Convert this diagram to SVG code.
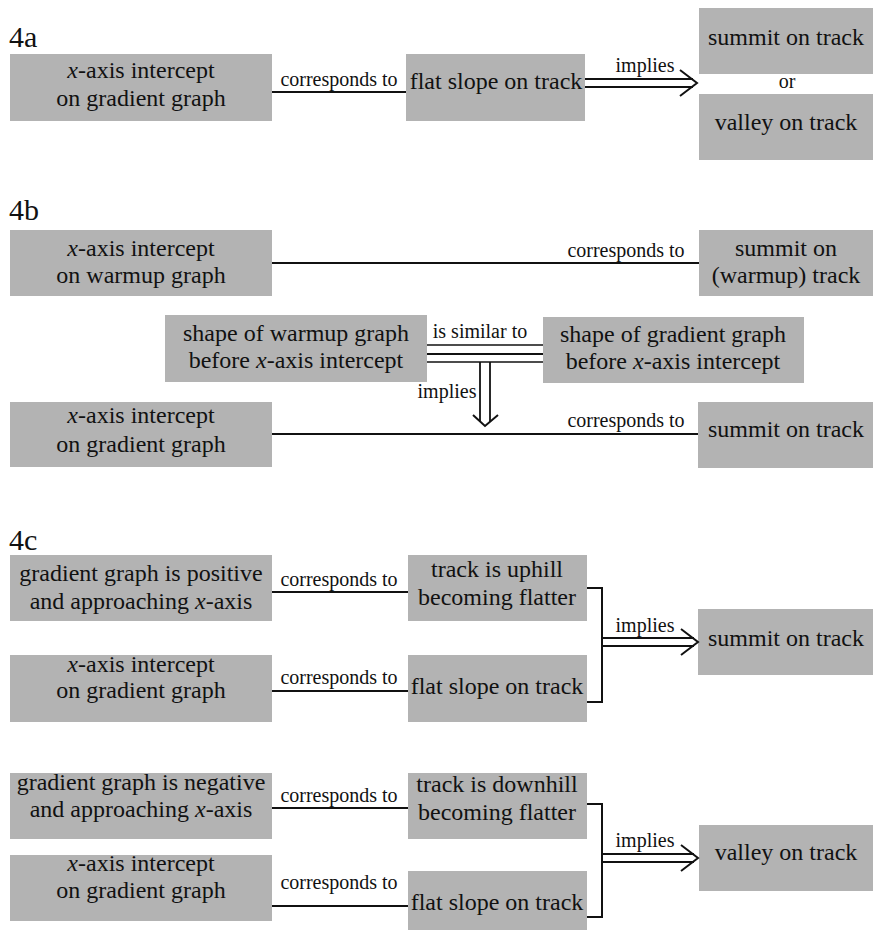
<svg xmlns="http://www.w3.org/2000/svg" width="873" height="930" viewBox="0 0 873 930">
<rect width="873" height="930" fill="#ffffff"/>
<g id="labels" font-family="Liberation Serif" font-size="30" fill="#111111">
<text x="9" y="47">4a</text>
<text x="9" y="220">4b</text>
<text x="9" y="550">4c</text>
</g>
<g id="nodes" font-family="Liberation Serif" font-size="24" text-anchor="middle">
<g id="a1"><rect fill="#b3b3b3" x="10" y="54" width="262" height="67"/><text fill="#111111" x="141" y="78"><tspan font-style="italic">x</tspan>-axis intercept</text><text fill="#111111" x="141" y="106">on gradient graph</text></g>
<g id="a2"><rect fill="#b3b3b3" x="406" y="54" width="179" height="67"/><text fill="#111111" x="496" y="89">flat slope on track</text></g>
<g id="a3"><rect fill="#b3b3b3" x="699" y="8" width="174" height="66"/><text fill="#111111" x="786" y="45">summit on track</text></g>
<g id="a4"><rect fill="#b3b3b3" x="699" y="94" width="174" height="66"/><text fill="#111111" x="786" y="130">valley on track</text></g>
<g id="b1"><rect fill="#b3b3b3" x="10" y="230" width="262" height="66"/><text fill="#111111" x="141" y="256"><tspan font-style="italic">x</tspan>-axis intercept</text><text fill="#111111" x="141" y="283">on warmup graph</text></g>
<g id="b2"><rect fill="#b3b3b3" x="699" y="230" width="174" height="66"/><text fill="#111111" x="786" y="256">summit on</text><text fill="#111111" x="786" y="283">(warmup) track</text></g>
<g id="b3"><rect fill="#b3b3b3" x="165" y="315" width="262" height="67"/><text fill="#111111" x="296" y="341">shape of warmup graph</text><text fill="#111111" x="296" y="368">before <tspan font-style="italic">x</tspan>-axis intercept</text></g>
<g id="b4"><rect fill="#b3b3b3" x="543" y="317" width="261" height="66"/><text fill="#111111" x="673" y="342">shape of gradient graph</text><text fill="#111111" x="673" y="369">before <tspan font-style="italic">x</tspan>-axis intercept</text></g>
<g id="b5"><rect fill="#b3b3b3" x="10" y="402" width="262" height="65"/><text fill="#111111" x="141" y="423"><tspan font-style="italic">x</tspan>-axis intercept</text><text fill="#111111" x="141" y="452">on gradient graph</text></g>
<g id="b6"><rect fill="#b3b3b3" x="698" y="402" width="175" height="66"/><text fill="#111111" x="786" y="437">summit on track</text></g>
<g id="c1"><rect fill="#b3b3b3" x="10" y="555" width="262" height="66"/><text fill="#111111" x="141" y="581">gradient graph is positive</text><text fill="#111111" x="141" y="609">and approaching <tspan font-style="italic">x</tspan>-axis</text></g>
<g id="c2"><rect fill="#b3b3b3" x="408" y="555" width="179" height="66"/><text fill="#111111" x="497" y="577">track is uphill</text><text fill="#111111" x="497" y="605">becoming flatter</text></g>
<g id="c3"><rect fill="#b3b3b3" x="10" y="655" width="262" height="67"/><text fill="#111111" x="141" y="672"><tspan font-style="italic">x</tspan>-axis intercept</text><text fill="#111111" x="141" y="698">on gradient graph</text></g>
<g id="c4"><rect fill="#b3b3b3" x="408" y="655" width="179" height="67"/><text fill="#111111" x="497" y="694">flat slope on track</text></g>
<g id="c5"><rect fill="#b3b3b3" x="698" y="609" width="175" height="66"/><text fill="#111111" x="786" y="646">summit on track</text></g>
<g id="d1"><rect fill="#b3b3b3" x="10" y="773" width="262" height="66"/><text fill="#111111" x="141" y="790">gradient graph is negative</text><text fill="#111111" x="141" y="817">and approaching <tspan font-style="italic">x</tspan>-axis</text></g>
<g id="d2"><rect fill="#b3b3b3" x="408" y="773" width="179" height="66"/><text fill="#111111" x="497" y="792">track is downhill</text><text fill="#111111" x="497" y="820">becoming flatter</text></g>
<g id="d3"><rect fill="#b3b3b3" x="10" y="855" width="262" height="66"/><text fill="#111111" x="141" y="871"><tspan font-style="italic">x</tspan>-axis intercept</text><text fill="#111111" x="141" y="898">on gradient graph</text></g>
<g id="d4"><rect fill="#b3b3b3" x="408" y="871" width="179" height="66"/><text fill="#111111" x="497" y="910">flat slope on track</text></g>
<g id="d5"><rect fill="#b3b3b3" x="699" y="825" width="174" height="66"/><text fill="#111111" x="786" y="860">valley on track</text></g>
</g>
<g id="connectors" stroke="#111111" stroke-width="2" fill="none">
<line x1="272" y1="92" x2="406" y2="92"/>
<line x1="585" y1="79" x2="693" y2="79" stroke-width="1.8"/>
<line x1="585" y1="87" x2="693" y2="87" stroke-width="1.8"/>
<polyline points="680,70 697,83 680,96"/>
<line x1="272" y1="263" x2="699" y2="263"/>
<line x1="427" y1="345" x2="543" y2="345" stroke-width="1.4"/>
<line x1="427" y1="354" x2="543" y2="354"/>
<line x1="427" y1="362" x2="543" y2="362" stroke-width="1.4"/>
<line x1="480" y1="362" x2="480" y2="422" stroke-width="1.8"/>
<line x1="490" y1="362" x2="490" y2="422" stroke-width="1.8"/>
<polyline points="473,415 485,426 498,415"/>
<line x1="272" y1="434" x2="698" y2="434"/>
<line x1="272" y1="592" x2="408" y2="592"/>
<line x1="272" y1="691" x2="408" y2="691"/>
<polyline points="587,588 602,588 602,702 587,702"/>
<line x1="602" y1="638" x2="694" y2="638" stroke-width="1.8"/>
<line x1="602" y1="646" x2="694" y2="646" stroke-width="1.8"/>
<polyline points="681,629 698,642 681,655"/>
<line x1="272" y1="808" x2="408" y2="808"/>
<line x1="272" y1="906" x2="408" y2="906"/>
<polyline points="587,804 602,804 602,917 587,917"/>
<line x1="602" y1="854" x2="694" y2="854" stroke-width="1.8"/>
<line x1="602" y1="862" x2="694" y2="862" stroke-width="1.8"/>
<polyline points="681,845 698,858 681,871"/>
</g>
<g id="connector-labels" font-family="Liberation Serif" font-size="20" fill="#111111" text-anchor="middle">
<text x="339" y="86">corresponds to</text>
<text x="645" y="72">implies</text>
<text x="787" y="88">or</text>
<text x="626" y="257">corresponds to</text>
<text x="480" y="338">is similar to</text>
<text x="447" y="398">implies</text>
<text x="626" y="427">corresponds to</text>
<text x="339" y="586">corresponds to</text>
<text x="339" y="684">corresponds to</text>
<text x="645" y="632">implies</text>
<text x="339" y="802">corresponds to</text>
<text x="339" y="889">corresponds to</text>
<text x="645" y="847">implies</text>
</g>
</svg>
